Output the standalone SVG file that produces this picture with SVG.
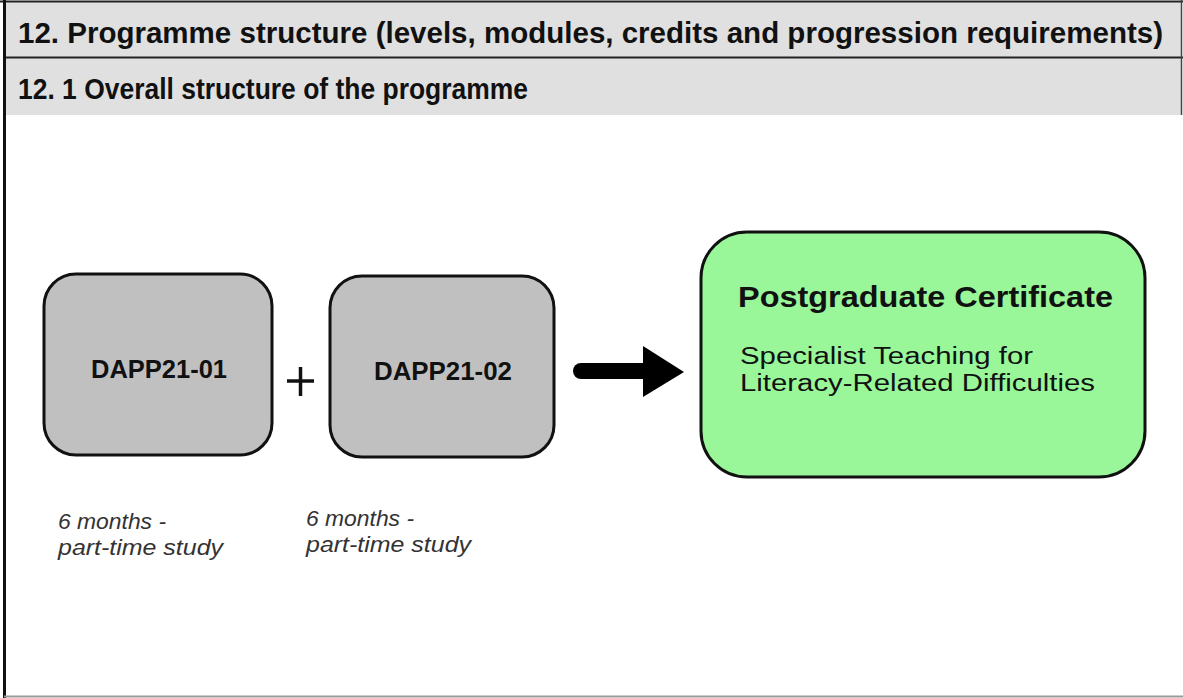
<svg xmlns="http://www.w3.org/2000/svg" width="1183" height="698" viewBox="0 0 1183 698">
<style>
.hdr{font-family:"Liberation Sans",Arial,sans-serif;font-weight:bold;font-size:29px;fill:#111}
.mod{fill:#c0c0c0;stroke:#111;stroke-width:3}
.modt{font-family:"Liberation Sans",Arial,sans-serif;font-weight:bold;font-size:25px;fill:#111;text-anchor:middle}
.cert{fill:#99f799;stroke:#111;stroke-width:3}
.sub{font-family:"Liberation Sans",Arial,sans-serif;font-size:23px;fill:#111}
.note{font-family:"Liberation Sans",Arial,sans-serif;font-style:italic;font-size:22px;fill:#333}
</style>
<rect x="0" y="0" width="1183" height="698" fill="#ffffff"/>
<g id="header">
<rect x="4" y="1" width="1178" height="57" fill="#e0e0e0"/>
<rect x="4" y="58" width="1178" height="57" fill="#e0e0e0"/>
<line x1="0" y1="1.5" x2="1183" y2="1.5" stroke="#222" stroke-width="2"/>
<line x1="4" y1="57.5" x2="1183" y2="57.5" stroke="#222" stroke-width="2"/>
<line x1="1181.5" y1="0" x2="1181.5" y2="115" stroke="#444" stroke-width="1.5"/>
<text class="hdr" x="18" y="43" textLength="1145" lengthAdjust="spacingAndGlyphs">12. Programme structure (levels, modules, credits and progression requirements)</text>
<text class="hdr" x="18" y="99" textLength="510" lengthAdjust="spacingAndGlyphs">12. 1 Overall structure of the programme</text>
</g>
<line x1="4.5" y1="0" x2="4.5" y2="698" stroke="#111" stroke-width="3"/>
<line x1="4" y1="696.5" x2="1183" y2="696.5" stroke="#9a9a9a" stroke-width="2"/>
<g id="node-dapp2101">
<rect class="mod" x="44" y="274" width="228" height="181" rx="32" ry="32"/>
<text class="modt" x="159" y="378" textLength="136" lengthAdjust="spacingAndGlyphs">DAPP21-01</text>
</g>
<g id="node-plus">
<line x1="287" y1="381" x2="314" y2="381" stroke="#111" stroke-width="3.5"/>
<line x1="300.5" y1="367" x2="300.5" y2="396" stroke="#111" stroke-width="3.5"/>
</g>
<g id="node-dapp2102">
<rect class="mod" x="330" y="276" width="224" height="181" rx="32" ry="32"/>
<text class="modt" x="443" y="380" textLength="138" lengthAdjust="spacingAndGlyphs">DAPP21-02</text>
</g>
<g id="connectors">
<line x1="581" y1="371" x2="646" y2="371" stroke="#000" stroke-width="16" stroke-linecap="round"/>
<polygon points="643,346 684,372 643,397" fill="#000"/>
</g>
<g id="node-cert">
<rect class="cert" x="701" y="232" width="444" height="245" rx="46" ry="46"/>
<text x="738" y="307" font-family="Liberation Sans, Arial, sans-serif" font-weight="bold" font-size="30" fill="#111" textLength="375" lengthAdjust="spacingAndGlyphs">Postgraduate Certificate</text>
<text class="sub" x="740" y="364" textLength="293" lengthAdjust="spacingAndGlyphs">Specialist Teaching for</text>
<text class="sub" x="740" y="391" textLength="355" lengthAdjust="spacingAndGlyphs">Literacy-Related Difficulties</text>
</g>
<g id="notes">
<text class="note" x="58" y="529" textLength="108" lengthAdjust="spacingAndGlyphs">6 months -</text>
<text class="note" x="58" y="555" textLength="165" lengthAdjust="spacingAndGlyphs">part-time study</text>
<text class="note" x="306" y="526" textLength="108" lengthAdjust="spacingAndGlyphs">6 months -</text>
<text class="note" x="306" y="552" textLength="165" lengthAdjust="spacingAndGlyphs">part-time study</text>
</g>
</svg>
